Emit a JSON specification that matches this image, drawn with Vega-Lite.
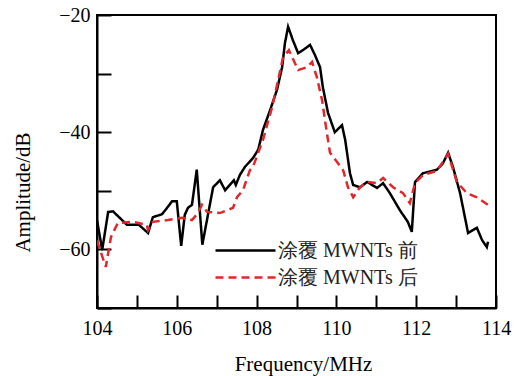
{
  "$schema": "https://vega.github.io/schema/vega-lite/v6.json",
  "autosize": "none",
  "width": 399,
  "height": 293,
  "padding": {"left": 97, "top": 15, "right": 19, "bottom": 68},
  "background": "white",
  "config": {
    "view": {"stroke": "black", "strokeWidth": 2},
    "font": "Liberation Serif",
    "axis": {
      "domainColor": "black",
      "domainWidth": 2,
      "tickColor": "black",
      "tickWidth": 2,
      "labelColor": "black",
      "titleColor": "black",
      "labelFont": "Liberation Serif",
      "titleFont": "Liberation Serif",
      "labelFontSize": 20,
      "titleFontSize": 21,
      "titleFontWeight": "normal",
      "grid": false
    },
    "legend": {
      "title": null,
      "orient": "none",
      "legendX": 132,
      "legendY": 219,
      "padding": 0,
      "symbolType": "M-2,0H2",
      "symbolSize": 900,
      "symbolStrokeWidth": 2.5,
      "symbolFillColor": "transparent",
      "labelFont": "Liberation Serif",
      "labelFontSize": 20,
      "labelColor": "#222",
      "labelOffset": 16,
      "rowPadding": 0,
      "labelLimit": 300
    }
  },
  "data": {
    "values": [
      {"f": 104.00, "a": -55.0, "s": "涂覆 MWNTs 前"},
      {"f": 104.13, "a": -60.1, "s": "涂覆 MWNTs 前"},
      {"f": 104.28, "a": -53.6, "s": "涂覆 MWNTs 前"},
      {"f": 104.40, "a": -53.5, "s": "涂覆 MWNTs 前"},
      {"f": 104.75, "a": -55.8, "s": "涂覆 MWNTs 前"},
      {"f": 105.05, "a": -55.8, "s": "涂覆 MWNTs 前"},
      {"f": 105.28, "a": -57.2, "s": "涂覆 MWNTs 前"},
      {"f": 105.40, "a": -54.5, "s": "涂覆 MWNTs 前"},
      {"f": 105.63, "a": -54.0, "s": "涂覆 MWNTs 前"},
      {"f": 105.70, "a": -53.4, "s": "涂覆 MWNTs 前"},
      {"f": 105.88, "a": -51.8, "s": "涂覆 MWNTs 前"},
      {"f": 106.00, "a": -51.8, "s": "涂覆 MWNTs 前"},
      {"f": 106.11, "a": -59.4, "s": "涂覆 MWNTs 前"},
      {"f": 106.20, "a": -54.1, "s": "涂覆 MWNTs 前"},
      {"f": 106.28, "a": -52.9, "s": "涂覆 MWNTs 前"},
      {"f": 106.38, "a": -52.4, "s": "涂覆 MWNTs 前"},
      {"f": 106.50, "a": -46.4, "s": "涂覆 MWNTs 前"},
      {"f": 106.64, "a": -59.2, "s": "涂覆 MWNTs 前"},
      {"f": 106.91, "a": -49.4, "s": "涂覆 MWNTs 前"},
      {"f": 107.08, "a": -48.2, "s": "涂覆 MWNTs 前"},
      {"f": 107.21, "a": -49.9, "s": "涂覆 MWNTs 前"},
      {"f": 107.43, "a": -48.2, "s": "涂覆 MWNTs 前"},
      {"f": 107.48, "a": -49.0, "s": "涂覆 MWNTs 前"},
      {"f": 107.58, "a": -47.3, "s": "涂覆 MWNTs 前"},
      {"f": 107.71, "a": -45.9, "s": "涂覆 MWNTs 前"},
      {"f": 107.91, "a": -44.4, "s": "涂覆 MWNTs 前"},
      {"f": 108.04, "a": -43.0, "s": "涂覆 MWNTs 前"},
      {"f": 108.16, "a": -39.6, "s": "涂覆 MWNTs 前"},
      {"f": 108.34, "a": -36.2, "s": "涂覆 MWNTs 前"},
      {"f": 108.51, "a": -32.8, "s": "涂覆 MWNTs 前"},
      {"f": 108.64, "a": -28.9, "s": "涂覆 MWNTs 前"},
      {"f": 108.71, "a": -24.8, "s": "涂覆 MWNTs 前"},
      {"f": 108.79, "a": -22.0, "s": "涂覆 MWNTs 前"},
      {"f": 108.91, "a": -24.3, "s": "涂覆 MWNTs 前"},
      {"f": 109.04, "a": -26.5, "s": "涂覆 MWNTs 前"},
      {"f": 109.16, "a": -26.0, "s": "涂覆 MWNTs 前"},
      {"f": 109.34, "a": -25.1, "s": "涂覆 MWNTs 前"},
      {"f": 109.46, "a": -26.8, "s": "涂覆 MWNTs 前"},
      {"f": 109.59, "a": -28.9, "s": "涂覆 MWNTs 前"},
      {"f": 109.66, "a": -32.3, "s": "涂覆 MWNTs 前"},
      {"f": 109.79, "a": -36.7, "s": "涂覆 MWNTs 前"},
      {"f": 109.96, "a": -40.0, "s": "涂覆 MWNTs 前"},
      {"f": 110.14, "a": -38.8, "s": "涂覆 MWNTs 前"},
      {"f": 110.22, "a": -41.3, "s": "涂覆 MWNTs 前"},
      {"f": 110.34, "a": -47.0, "s": "涂覆 MWNTs 前"},
      {"f": 110.42, "a": -49.0, "s": "涂覆 MWNTs 前"},
      {"f": 110.59, "a": -49.4, "s": "涂覆 MWNTs 前"},
      {"f": 110.77, "a": -48.5, "s": "涂覆 MWNTs 前"},
      {"f": 111.02, "a": -49.5, "s": "涂覆 MWNTs 前"},
      {"f": 111.17, "a": -48.7, "s": "涂覆 MWNTs 前"},
      {"f": 111.34, "a": -50.4, "s": "涂覆 MWNTs 前"},
      {"f": 111.59, "a": -53.3, "s": "涂覆 MWNTs 前"},
      {"f": 111.79, "a": -55.3, "s": "涂覆 MWNTs 前"},
      {"f": 111.89, "a": -57.0, "s": "涂覆 MWNTs 前"},
      {"f": 111.97, "a": -48.5, "s": "涂覆 MWNTs 前"},
      {"f": 112.17, "a": -47.0, "s": "涂覆 MWNTs 前"},
      {"f": 112.52, "a": -46.4, "s": "涂覆 MWNTs 前"},
      {"f": 112.67, "a": -45.3, "s": "涂覆 MWNTs 前"},
      {"f": 112.80, "a": -43.5, "s": "涂覆 MWNTs 前"},
      {"f": 112.92, "a": -45.9, "s": "涂覆 MWNTs 前"},
      {"f": 113.10, "a": -50.4, "s": "涂覆 MWNTs 前"},
      {"f": 113.30, "a": -57.2, "s": "涂覆 MWNTs 前"},
      {"f": 113.52, "a": -56.3, "s": "涂覆 MWNTs 前"},
      {"f": 113.65, "a": -58.4, "s": "涂覆 MWNTs 前"},
      {"f": 113.77, "a": -59.6, "s": "涂覆 MWNTs 前"},
      {"f": 113.80, "a": -58.7, "s": "涂覆 MWNTs 前"},

      {"f": 104.00, "a": -58.5, "s": "涂覆 MWNTs 后"},
      {"f": 104.22, "a": -63.0, "s": "涂覆 MWNTs 后"},
      {"f": 104.35, "a": -57.9, "s": "涂覆 MWNTs 后"},
      {"f": 104.52, "a": -55.5, "s": "涂覆 MWNTs 后"},
      {"f": 104.90, "a": -55.3, "s": "涂覆 MWNTs 后"},
      {"f": 105.25, "a": -55.8, "s": "涂覆 MWNTs 后"},
      {"f": 105.28, "a": -56.7, "s": "涂覆 MWNTs 后"},
      {"f": 105.40, "a": -55.3, "s": "涂覆 MWNTs 后"},
      {"f": 105.78, "a": -55.0, "s": "涂覆 MWNTs 后"},
      {"f": 106.13, "a": -54.6, "s": "涂覆 MWNTs 后"},
      {"f": 106.38, "a": -55.0, "s": "涂覆 MWNTs 后"},
      {"f": 106.53, "a": -53.8, "s": "涂覆 MWNTs 后"},
      {"f": 106.63, "a": -52.4, "s": "涂覆 MWNTs 后"},
      {"f": 106.76, "a": -53.6, "s": "涂覆 MWNTs 后"},
      {"f": 107.08, "a": -53.8, "s": "涂覆 MWNTs 后"},
      {"f": 107.41, "a": -52.9, "s": "涂覆 MWNTs 后"},
      {"f": 107.51, "a": -51.1, "s": "涂覆 MWNTs 后"},
      {"f": 107.66, "a": -49.9, "s": "涂覆 MWNTs 后"},
      {"f": 107.83, "a": -46.5, "s": "涂覆 MWNTs 后"},
      {"f": 107.91, "a": -45.9, "s": "涂覆 MWNTs 后"},
      {"f": 108.16, "a": -41.3, "s": "涂覆 MWNTs 后"},
      {"f": 108.39, "a": -35.7, "s": "涂覆 MWNTs 后"},
      {"f": 108.54, "a": -31.1, "s": "涂覆 MWNTs 后"},
      {"f": 108.66, "a": -27.3, "s": "涂覆 MWNTs 后"},
      {"f": 108.81, "a": -26.0, "s": "涂覆 MWNTs 后"},
      {"f": 109.04, "a": -29.4, "s": "涂覆 MWNTs 后"},
      {"f": 109.26, "a": -28.9, "s": "涂覆 MWNTs 后"},
      {"f": 109.39, "a": -28.0, "s": "涂覆 MWNTs 后"},
      {"f": 109.51, "a": -30.6, "s": "涂覆 MWNTs 后"},
      {"f": 109.64, "a": -34.5, "s": "涂覆 MWNTs 后"},
      {"f": 109.76, "a": -40.1, "s": "涂覆 MWNTs 后"},
      {"f": 109.84, "a": -43.5, "s": "涂覆 MWNTs 后"},
      {"f": 110.04, "a": -45.3, "s": "涂覆 MWNTs 后"},
      {"f": 110.17, "a": -46.5, "s": "涂覆 MWNTs 后"},
      {"f": 110.29, "a": -49.4, "s": "涂覆 MWNTs 后"},
      {"f": 110.42, "a": -51.1, "s": "涂覆 MWNTs 后"},
      {"f": 110.59, "a": -49.4, "s": "涂覆 MWNTs 后"},
      {"f": 110.77, "a": -48.5, "s": "涂覆 MWNTs 后"},
      {"f": 111.02, "a": -48.7, "s": "涂覆 MWNTs 后"},
      {"f": 111.17, "a": -47.8, "s": "涂覆 MWNTs 后"},
      {"f": 111.42, "a": -49.4, "s": "涂覆 MWNTs 后"},
      {"f": 111.67, "a": -50.4, "s": "涂覆 MWNTs 后"},
      {"f": 111.84, "a": -52.1, "s": "涂覆 MWNTs 后"},
      {"f": 111.97, "a": -48.7, "s": "涂覆 MWNTs 后"},
      {"f": 112.17, "a": -47.3, "s": "涂覆 MWNTs 后"},
      {"f": 112.52, "a": -46.6, "s": "涂覆 MWNTs 后"},
      {"f": 112.80, "a": -43.7, "s": "涂覆 MWNTs 后"},
      {"f": 113.02, "a": -48.5, "s": "涂覆 MWNTs 后"},
      {"f": 113.27, "a": -50.4, "s": "涂覆 MWNTs 后"},
      {"f": 113.52, "a": -51.1, "s": "涂覆 MWNTs 后"},
      {"f": 113.80, "a": -52.4, "s": "涂覆 MWNTs 后"}
    ]
  },
  "mark": {"type": "line", "strokeWidth": 2.5, "clip": true},
  "encoding": {
    "x": {
      "field": "f",
      "type": "quantitative",
      "title": "Frequency/MHz",
      "scale": {"domain": [104, 114], "nice": false, "zero": false},
      "axis": {
        "values": [104, 105, 106, 107, 108, 109, 110, 111, 112, 113, 114],
        "labelExpr": "datum.value % 2 === 0 ? datum.label : ''",
        "tickSize": -13,
        "labelPadding": 23,
        "labelFlush": false,
        "labelOverlap": false,
        "titleX": 206,
        "titleY": 45,
        "encode": {
          "ticks": {"update": {"y2": {"signal": "datum.value % 2 === 0 ? -13 : -7"}}}
        }
      }
    },
    "y": {
      "field": "a",
      "type": "quantitative",
      "title": "Amplitude/dB",
      "scale": {"domain": [-70, -20], "nice": false, "zero": false},
      "axis": {
        "values": [-70, -60, -50, -40, -30, -20],
        "labelExpr": "datum.value % 20 === 0 ? datum.label : ''",
        "tickSize": -14,
        "labelPadding": 21,
        "labelFlush": false,
        "labelOverlap": false,
        "titleX": -64,
        "titleY": 177,
        "encode": {
          "ticks": {"update": {"x2": {"signal": "datum.value % 20 === 0 ? 14 : 8"}}}
        }
      }
    },
    "color": {
      "field": "s",
      "type": "nominal",
      "scale": {"domain": ["涂覆 MWNTs 前", "涂覆 MWNTs 后"], "range": ["black", "#e3262c"]}
    },
    "strokeDash": {
      "field": "s",
      "type": "nominal",
      "scale": {"domain": ["涂覆 MWNTs 前", "涂覆 MWNTs 后"], "range": [[1, 0], [8, 5]]}
    }
  }
}
